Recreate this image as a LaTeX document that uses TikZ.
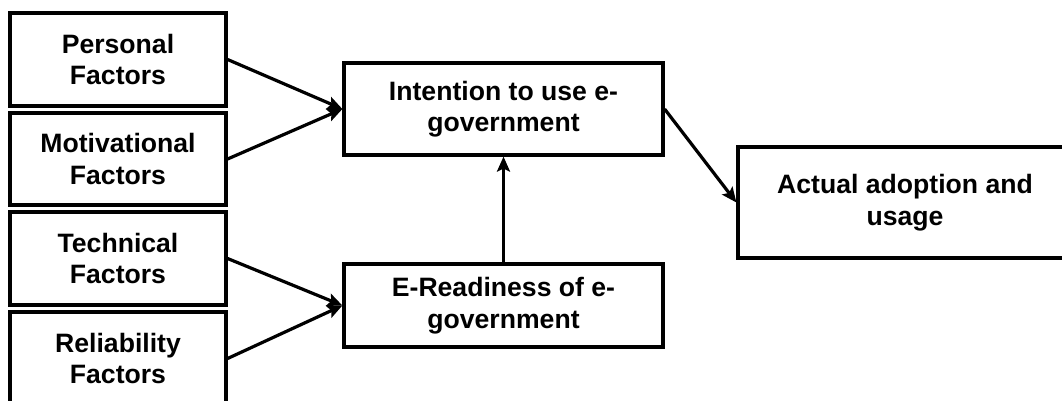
\documentclass[tikz,border=0pt]{standalone}
\usepackage{fontspec}
\setmainfont{Liberation Sans}
\usetikzlibrary{arrows.meta}
\begin{document}
\begin{tikzpicture}[x=1pt,y=-1pt,
  box/.style={draw=black, line width=3.2pt, fill=white, align=center,
    inner sep=0pt, font=\fontsize{26.6}{31.5}\selectfont\bfseries},
  link/.style={line width=3.2pt, -{Stealth[length=15pt,width=13pt,inset=3pt]}}]
  \clip (0,0) rectangle (1062,400);
  \useasboundingbox (0,0) rectangle (1062,400);
  % factor boxes on the left
  \node[box, minimum width=216, minimum height=93] (pers) at (118,59.5) {Personal\\Factors};
  \node[box, minimum width=216, minimum height=92] (moti) at (118,159) {Motivational\\Factors};
  \node[box, minimum width=216, minimum height=93] (tech) at (118,258.5) {Technical\\Factors};
  \node[box, minimum width=216, minimum height=93] (reli) at (118,358.5) {Reliability\\Factors};
  % middle constructs
  \node[box, minimum width=319, minimum height=92] (inten) at (503.5,109) {Intention to use e-\\government};
  \node[box, minimum width=319, minimum height=83] (ready) at (503.5,305.5) {E-Readiness of e-\\government};
  % outcome
  \node[box, minimum width=334, minimum height=111] (adopt) at (905,202.5) {Actual adoption and\\usage};
  % connectors
  \draw[link] (pers.east) -- (inten.west);
  \draw[link] (moti.east) -- (inten.west);
  \draw[link] (tech.east) -- (ready.west);
  \draw[link] (reli.east) -- (ready.west);
  \draw[link] (ready.north) -- (inten.south);
  \draw[link] (inten.east) -- (adopt.west);
\end{tikzpicture}
\end{document}
